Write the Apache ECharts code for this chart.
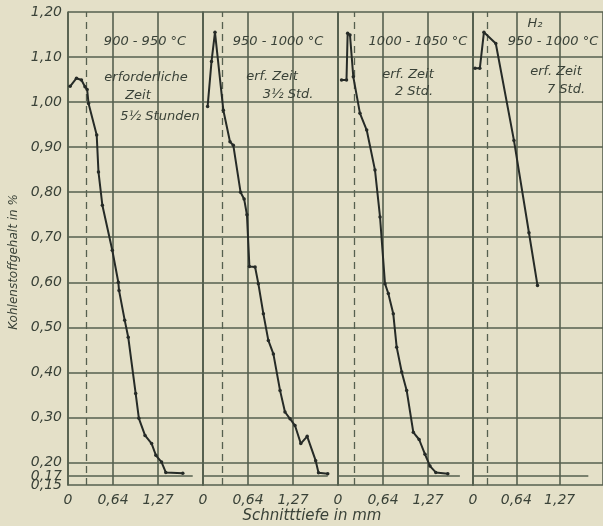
<!DOCTYPE html>
<html>
<head>
<meta charset="utf-8">
<script src="https://cdn.jsdelivr.net/npm/echarts@6/dist/echarts.min.js"></script>
<style>
html, body { margin: 0; padding: 0; background: #e4e0c8; }
#chart { width: 603px; height: 526px; }
</style>
</head>
<body>
<div id="chart"></div>
<script>
// Schnitttiefe in mm / Kohlenstoffgehalt in %
const panel1 = [[0.03, 1.035], [0.12, 1.053], [0.19, 1.049], [0.24, 1.034], [0.27, 1.028], [0.29, 0.997],
  [0.405, 0.927], [0.43, 0.845], [0.485, 0.771], [0.625, 0.671], [0.71, 0.60], [0.72, 0.582], [0.80, 0.516],
  [0.85, 0.478], [0.955, 0.353], [1.0, 0.298], [1.087, 0.26], [1.18, 0.242], [1.24, 0.216], [1.32, 0.201],
  [1.38, 0.178], [1.62, 0.176]]
const panel2 = [[0.065, 0.99], [0.12, 1.09], [0.169, 1.155], [0.287, 0.982], [0.381, 0.912], [0.428, 0.904],
  [0.53, 0.80], [0.58, 0.785], [0.62, 0.75], [0.655, 0.635], [0.735, 0.634], [0.781, 0.597], [0.852, 0.53],
  [0.922, 0.471], [0.993, 0.441], [1.087, 0.36], [1.157, 0.312], [1.228, 0.297], [1.298, 0.282],
  [1.38, 0.242], [1.47, 0.258], [1.59, 0.204], [1.63, 0.177], [1.76, 0.175]]
const panel3 = [[0.05, 1.049], [0.12, 1.049], [0.136, 1.153], [0.169, 1.149], [0.216, 1.056], [0.31, 0.975],
  [0.405, 0.938], [0.522, 0.849], [0.593, 0.745], [0.663, 0.597], [0.71, 0.575], [0.78, 0.53], [0.828, 0.456],
  [0.899, 0.401], [0.969, 0.36], [1.063, 0.267], [1.145, 0.251], [1.228, 0.218], [1.298, 0.192],
  [1.38, 0.178], [1.55, 0.175]]
const panel4 = [[0.03, 1.075], [0.10, 1.075], [0.16, 1.155], [0.334, 1.13], [0.60, 0.915], [0.82, 0.71], [0.945, 0.593]]
const panels = [panel1, panel2, panel3, panel4]

const dashedAt = [0.26, 0.27, 0.23, 0.21]       // gestrichelte Linie je Feld
const baseLineEnd = [1.76, 1.76, 1.72, 1.69]    // Linie bei 0,17 %
const baseValue = 0.17

const yLabels = [0.15, 0.2, 0.3, 0.4, 0.5, 0.6, 0.7, 0.8, 0.9, 1.0, 1.1, 1.2]
const yExtraLabels = [0.17]
const yGrid = [0.2, 0.3, 0.4, 0.5, 0.6, 0.7, 0.8, 0.9, 1.0, 1.1, 1.2]
const xTicks = [0, 0.635, 1.27]
const xTickLabels = ['0', '0,64', '1,27']

const notes = [
  { x: 145, y: 42, text: '900 - 950 °C' },
  { x: 146, y: 78, text: 'erforderliche' },
  { x: 138, y: 96, text: 'Zeit' },
  { x: 160, y: 117, text: '5½ Stunden' },
  { x: 278, y: 42, text: '950 - 1000 °C' },
  { x: 272, y: 77, text: 'erf. Zeit' },
  { x: 288, y: 95, text: '3½ Std.' },
  { x: 418, y: 42, text: '1000 - 1050 °C' },
  { x: 408, y: 75, text: 'erf. Zeit' },
  { x: 414, y: 92, text: '2 Std.' },
  { x: 535, y: 24, text: 'H₂' },
  { x: 553, y: 42, text: '950 - 1000 °C' },
  { x: 556, y: 72, text: 'erf. Zeit' },
  { x: 566, y: 90, text: '7 Std.' }
]

const ink = '#3a4238'
const gridColor = '#56604f'
const fontItalic = { fontFamily: 'DejaVu Sans', fontStyle: 'italic', color: ink }
const yFmt = v => v.toFixed(2).replace('.', ',')

const chart = echarts.init(document.getElementById('chart'))

const grids = []
const xAxes = []
const yAxes = []
const series = []
panels.forEach((data, i) => {
  grids.push({ left: 68 + 135 * i, top: 12, width: 135, height: 473 })
  xAxes.push({
    type: 'value',
    gridIndex: i,
    min: 0,
    max: 1.905,
    interval: 0.635,
    axisLine: { show: true, onZero: false, lineStyle: { color: gridColor, width: 1.6 } },
    axisTick: { show: false },
    splitLine: { show: true, lineStyle: { color: gridColor, width: 1.6 } },
    axisLabel: {
      ...fontItalic,
      fontSize: 14,
      margin: 8,
      customValues: xTicks,
      formatter: v => {
        const k = xTicks.findIndex(t => Math.abs(t - v) < 0.01)
        return k >= 0 ? xTickLabels[k] : ''
      }
    }
  })
  yAxes.push({
    type: 'value',
    gridIndex: i,
    min: 0.15,
    max: 1.2,
    axisLine: { show: true, lineStyle: { color: gridColor, width: 1.6 } },
    axisTick: { show: false },
    splitLine: { show: false },
    axisLabel: i === 0 ? {
      ...fontItalic,
      fontSize: 14,
      margin: 6,
      hideOverlap: false,
      showMinLabel: true,
      showMaxLabel: true,
      customValues: yLabels,
      formatter: yFmt
    } : { show: false }
  })
  series.push({
    type: 'line',
    xAxisIndex: i,
    yAxisIndex: i,
    data: [[0, baseValue], [baseLineEnd[i], baseValue]],
    symbol: 'none',
    silent: true,
    lineStyle: { color: gridColor, width: 1.3 },
    markLine: {
      silent: true,
      symbol: 'none',
      label: { show: false },
      lineStyle: { color: gridColor, width: 1.6, type: 'solid' },
      data: yGrid.map(v => ({ yAxis: v })).concat([{
        xAxis: dashedAt[i],
        lineStyle: { color: gridColor, width: 1.3, type: [7, 5] }
      }])
    },
    z: 2
  })
  series.push({
    type: 'line',
    xAxisIndex: i,
    yAxisIndex: i,
    data: data,
    symbol: 'circle',
    symbolSize: 3.5,
    itemStyle: { color: '#262b27' },
    lineStyle: { color: '#262b27', width: 2 },
    z: 5
  })
})

// zweite Achse im ersten Feld nur für die Beschriftung 0,17
yAxes.push({
  type: 'value',
  gridIndex: 0,
  position: 'left',
  min: 0.15,
  max: 1.2,
  axisLine: { show: false },
  axisTick: { show: false },
  splitLine: { show: false },
  axisLabel: {
    ...fontItalic,
    fontSize: 14,
    margin: 6,
    hideOverlap: false,
    customValues: yExtraLabels,
    formatter: yFmt
  }
})

const option = {
  backgroundColor: '#e4e0c8',
  animation: false,
  grid: grids,
  xAxis: xAxes,
  yAxis: yAxes,
  series: series,
  graphic: notes.map(n => ({
    type: 'text',
    x: n.x,
    y: n.y,
    style: { text: n.text, fill: ink, font: 'italic 13px "DejaVu Sans"', align: 'center', verticalAlign: 'middle' },
    z: 10
  })).concat([
    {
      type: 'text',
      x: 312,
      y: 516,
      style: { text: 'Schnitttiefe in mm', fill: ink, font: 'italic 15px "DejaVu Sans"', align: 'center', verticalAlign: 'middle' }
    },
    {
      type: 'text',
      x: 14,
      y: 262,
      rotation: Math.PI / 2,
      style: { text: 'Kohlenstoffgehalt in %', fill: ink, font: 'italic 12px "DejaVu Sans"', align: 'center', verticalAlign: 'middle' }
    }
  ])
}
chart.setOption(option)
</script>
</body>
</html>
